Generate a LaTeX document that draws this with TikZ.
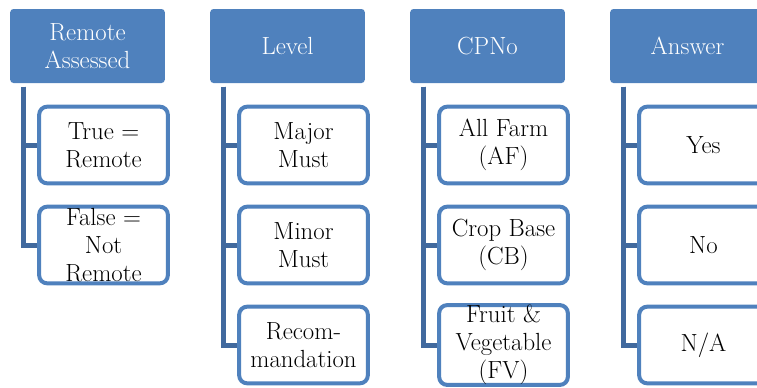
\documentclass[tikz,border=0pt]{standalone}
\usepackage{fontspec}
\usetikzlibrary{positioning}
\definecolor{hdblue}{HTML}{4F81BD}
\definecolor{lnblue}{HTML}{41699E}

\begin{document}
\begin{tikzpicture}[x=0.75pt, y=-0.75pt, every node/.style={font=\rmfamily\fontsize{18.6}{21}\selectfont},
  headnode/.style={rectangle, fill=hdblue, rounded corners=2.5pt, minimum width=116pt, minimum height=55.5pt, inner sep=0pt, align=center, text=white},
  itemnode/.style={rectangle, draw=hdblue, line width=3pt, fill=white, rounded corners=6pt, minimum width=96.5pt, minimum height=57.5pt, inner sep=0pt, align=center},
  linkline/.style={draw=lnblue, line width=3.75pt},
]
\useasboundingbox (0,0) rectangle (757,387);
\clip (0,0) rectangle (757,387);
% top row
\node[headnode] (h1) at (87.5, 46) {Remote\\Assessed}; \node[headnode] (h2) at (287.5, 46) {Level}; \node[headnode] (h3) at (487.5, 46) {CPNo}; \node[headnode] (h4) at (687.5, 46) {Answer};
% items
\node[itemnode] (a1) at (103.5, 145) {True =\\Remote}; \node[itemnode] (a2) at (103.5, 245) {False =\\Not\\Remote};
\node[itemnode] (b1) at (303.5, 145) {Major\\Must}; \node[itemnode] (b2) at (303.5, 245) {Minor\\Must}; \node[itemnode] (b3) at (303.5, 345) {Recom-\\mandation};
\node[itemnode] (c1) at (503.5, 145) {All Farm\\(AF)}; \node[itemnode] (c2) at (503.5, 245) {Crop Base\\(CB)}; \node[itemnode] (c3) at (503.5, 345) {Fruit \&\\Vegetable\\(FV)};
\node[itemnode] (d1) at (703.5, 145) {Yes}; \node[itemnode] (d2) at (703.5, 245) {No}; \node[itemnode] (d3) at (703.5, 345) {N/A};
% connectors
\draw[linkline] ([xshift=10.5pt, yshift=-2.5pt]h1.south west) |- (a1.west); \draw[linkline] ([xshift=10.5pt, yshift=-2.5pt]h1.south west) |- (a2.west);
\draw[linkline] ([xshift=10.5pt, yshift=-2.5pt]h2.south west) |- (b1.west); \draw[linkline] ([xshift=10.5pt, yshift=-2.5pt]h2.south west) |- (b2.west); \draw[linkline] ([xshift=10.5pt, yshift=-2.5pt]h2.south west) |- (b3.west);
\draw[linkline] ([xshift=10.5pt, yshift=-2.5pt]h3.south west) |- (c1.west); \draw[linkline] ([xshift=10.5pt, yshift=-2.5pt]h3.south west) |- (c2.west); \draw[linkline] ([xshift=10.5pt, yshift=-2.5pt]h3.south west) |- (c3.west);
\draw[linkline] ([xshift=10.5pt, yshift=-2.5pt]h4.south west) |- (d1.west); \draw[linkline] ([xshift=10.5pt, yshift=-2.5pt]h4.south west) |- (d2.west); \draw[linkline] ([xshift=10.5pt, yshift=-2.5pt]h4.south west) |- (d3.west);
\end{tikzpicture}
\end{document}
